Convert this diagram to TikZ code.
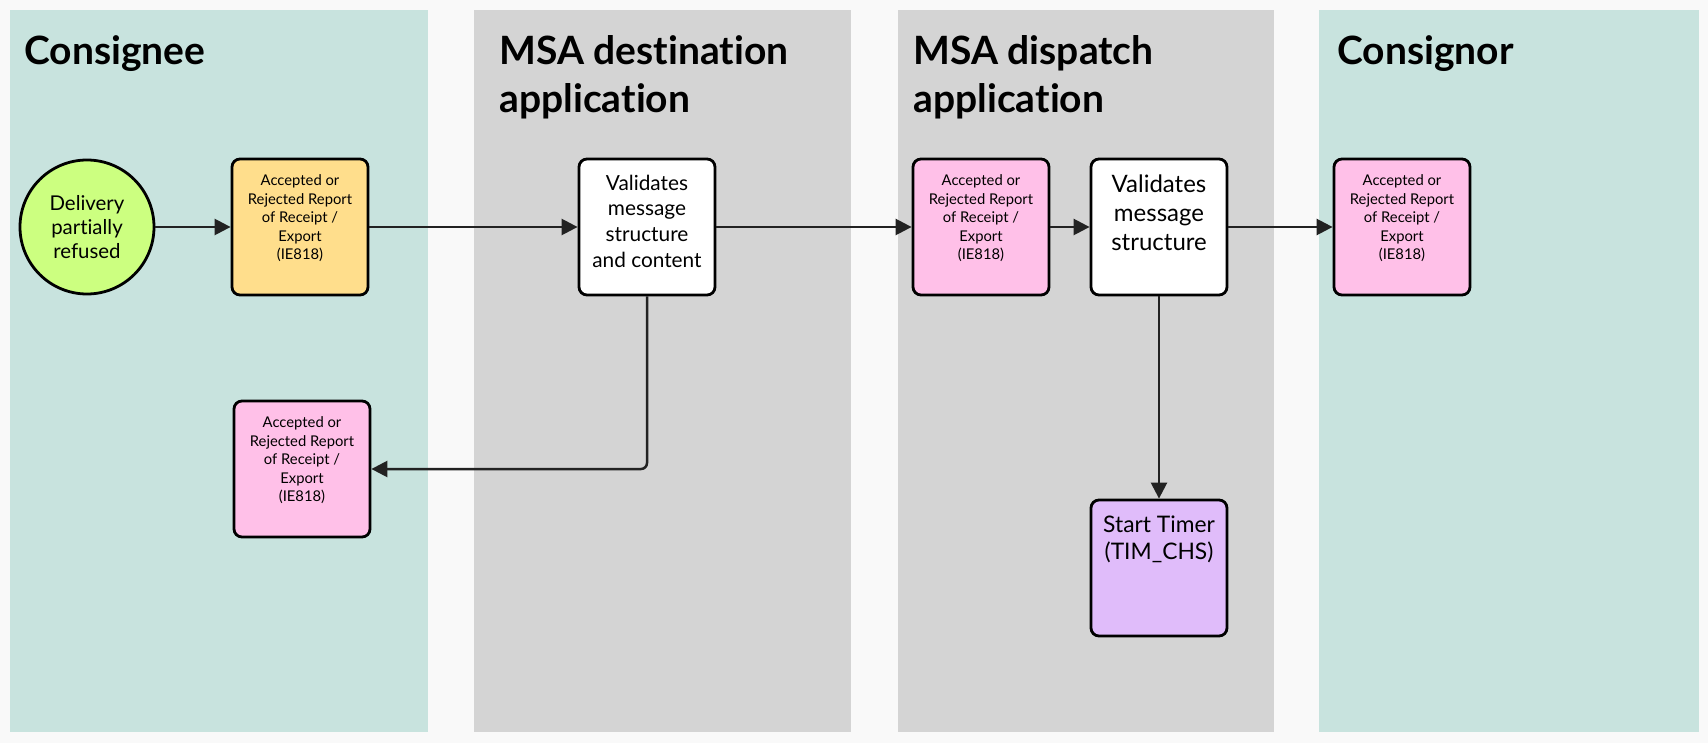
\documentclass[tikz,border=0pt]{standalone}
\usepackage{fontspec}
\setmainfont{Lato}[Ligatures=NoCommon]
\usetikzlibrary{arrows.meta}
\definecolor{pagebg}{RGB}{249,249,249}
\definecolor{laneteal}{RGB}{200,227,222}
\definecolor{lanegray}{RGB}{212,212,212}
\definecolor{startgreen}{RGB}{204,255,128}
\definecolor{msgyellow}{RGB}{255,222,140}
\definecolor{msgpink}{RGB}{255,192,232}
\definecolor{timerpurple}{RGB}{224,188,250}
\definecolor{linedark}{RGB}{34,34,34}
\newcommand{\boxtext}[1]{\parbox[c][68pt][t]{64pt}{\centering\vspace*{8pt}#1}}
\tikzset{
  lanetitle/.style={anchor=north west,inner sep=0pt,align=left,
    font=\fontsize{19.5}{24}\selectfont\bfseries},
  stepbox/.style={draw=black,line width=1.4pt,rounded corners=4pt,
    minimum width=68pt,minimum height=68pt,inner sep=0pt},
  msgbox/.style={stepbox,fill=msgpink,font=\fontsize{7.4}{9.2}\selectfont},
  flow/.style={->,draw=linedark,line width=1.25pt}
}
\begin{document}
\begin{tikzpicture}[x=0.5pt,y=-0.5pt,>={Triangle[length=8pt,width=8pt]}]
% swimlanes
\fill[pagebg] (0,0) rectangle (1708,743);
\fill[laneteal] (10,10) rectangle (428,732);
\fill[lanegray] (474,10) rectangle (851,732);
\fill[lanegray] (898,10) rectangle (1274,732);
\fill[laneteal] (1319,10) rectangle (1699,732);
\node[lanetitle] (consignee) at (24,35) {Consignee};
\node[lanetitle] (msadest) at (499,35) {MSA destination\\application};
\node[lanetitle] (msadisp) at (913,35) {MSA dispatch\\application};
\node[lanetitle] (consignor) at (1337,35) {Consignor};

% steps
\node[circle,draw=black,line width=1.4pt,fill=startgreen,minimum size=67pt,
  inner sep=0pt,align=center,font=\fontsize{10.2}{12.2}\selectfont]
  (refused) at (87,227) {Delivery\\partially\\refused};
\node[msgbox,fill=msgyellow] (reportOut) at (300,227)
  {\boxtext{Accepted or\\Rejected Report\\of Receipt /\\Export\\(IE818)}};
\node[stepbox,fill=white,font=\fontsize{10.4}{12.8}\selectfont] (validateDest) at (647,227)
  {\boxtext{Validates\\message\\structure\\and content}};
\node[msgbox] (reportBack) at (302,469)
  {\boxtext{Accepted or\\Rejected Report\\of Receipt /\\Export\\(IE818)}};
\node[msgbox] (reportDisp) at (981,227)
  {\boxtext{Accepted or\\Rejected Report\\of Receipt /\\Export\\(IE818)}};
\node[stepbox,fill=white,font=\fontsize{12}{14.4}\selectfont] (validateDisp) at (1159,227)
  {\boxtext{Validates\\message\\structure}};
\node[msgbox] (reportIn) at (1402,227)
  {\boxtext{Accepted or\\Rejected Report\\of Receipt /\\Export\\(IE818)}};
\node[stepbox,fill=timerpurple,font=\fontsize{11.4}{13.2}\selectfont] (timer) at (1159,568)
  {\boxtext{Start Timer\\(TIM\_CHS)}};

% flows
\draw[flow] (refused) -- (reportOut);
\draw[flow] (reportOut) -- (validateDest);
\draw[flow] (validateDest) -- (reportDisp);
\draw[flow] (reportDisp) -- (validateDisp);
\draw[flow] (validateDisp) -- (reportIn);
\draw[flow] (validateDisp) -- (timer);
\draw[flow,rounded corners=3pt] (validateDest.south) |- (reportBack.east);
\end{tikzpicture}
\end{document}
